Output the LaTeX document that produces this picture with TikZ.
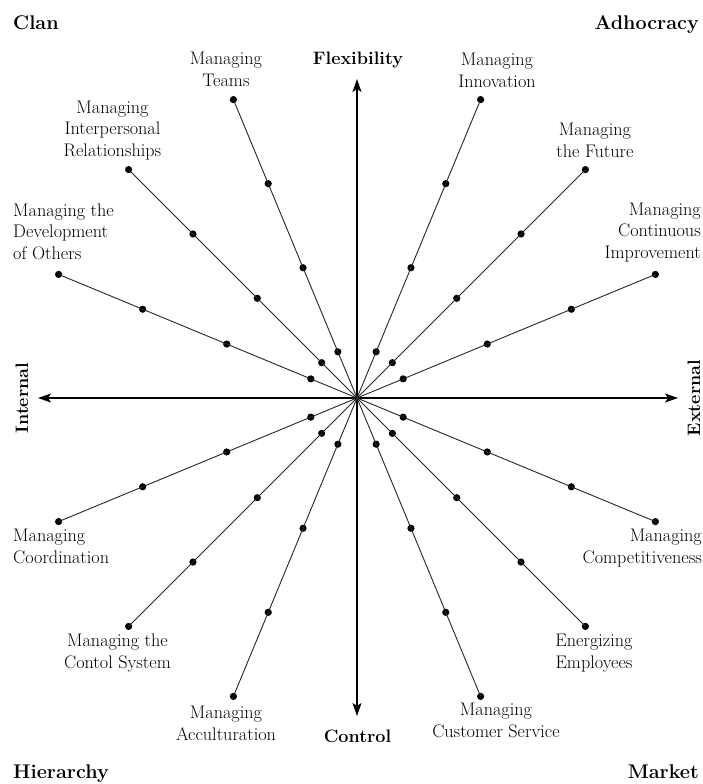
\documentclass[tikz,border=0pt]{standalone}
\usepackage{fontspec}
\usetikzlibrary{arrows.meta,calc}
\begin{document}
\begin{tikzpicture}[x=1pt,y=-1pt,
  spoke/.style={line width=0.9pt,black!85},
  axis/.style={line width=1.6pt,-{Stealth[length=13pt,width=9pt,inset=3pt]}},
  dot/.style={circle,fill,inner sep=0pt,minimum size=7.2pt},
  lbl/.style={font=\fontsize{18.2}{21.5}\selectfont,inner sep=0pt},
  head/.style={font=\fontsize{19.8}{23}\selectfont\bfseries,inner sep=0pt},
  axlbl/.style={font=\fontsize{18}{21}\selectfont\bfseries,inner sep=0pt}]
\useasboundingbox (0,0) rectangle (703,784);
\coordinate (O) at (357,398);

% axes
\coordinate (N) at (357,79);
\coordinate (S) at (357,716);
\coordinate (W) at (38,398);
\coordinate (E) at (678,398);
\draw[axis] (O) -- (N);
\draw[axis] (O) -- (S);
\draw[axis] (O) -- (W);
\draw[axis] (O) -- (E);

% spokes with four dots each (screen angles; y axis points down)
\foreach \a/\n in {22.5/ci, 45/fu, 67.5/in, 112.5/te, 135/ir, 157.5/dv,
                   202.5/co, 225/cs, 247.5/ac, 292.5/cu, 315/en, 337.5/cp}{
  \node[dot] (\n1) at ($(O)+(-\a:50)$) {};
  \node[dot] (\n2) at ($(O)+(-\a:141)$) {};
  \node[dot] (\n3) at ($(O)+(-\a:232)$) {};
  \node[dot] (\n4) at ($(O)+(-\a:323)$) {};
  \draw[spoke] (O) -- (\n4.center);
}

% quadrant names
\node[head,anchor=base west] (clan) at (13,30) {Clan};
\node[head,anchor=base east] (adho) at (699,30) {Adhocracy};
\node[head,anchor=base west] (hier) at (13,778) {Hierarchy};
\node[head,anchor=base east] (mark) at (699,778) {Market};

% axis names
\node[axlbl,anchor=base] (flex) at (358,65) {Flexibility};
\node[axlbl,anchor=base] (ctrl) at (357.5,742) {Control};
\node[axlbl,rotate=90] (intl) at (22,398) {Internal};
\node[axlbl,rotate=90] (extl) at (694,398) {External};

% spoke labels (anchor base = baseline of the last line)
\node[lbl,anchor=base,align=center] (lte) at (226,86) {Managing\\Teams};
\node[lbl,anchor=base,align=center] (lir) at (112.5,156) {Managing\\Interpersonal\\Relationships};
\node[lbl,anchor=base west,align=left] (ldv) at (13,259) {Managing the\\Development\\of Others};
\node[lbl,anchor=base,align=center] (lin) at (497,87) {Managing\\Innovation};
\node[lbl,anchor=base,align=center] (lfu) at (595,157) {Managing\\the Future};
\node[lbl,anchor=base east,align=right] (lci) at (701,258) {Managing\\Continuous\\Improvement};
\node[lbl,anchor=base west,align=left] (lco) at (13,563) {Managing\\Coordination};
\node[lbl,anchor=base,align=center] (lcs) at (117.5,668) {Managing the\\Contol System};
\node[lbl,anchor=base,align=center] (lac) at (226,740) {Managing\\Acculturation};
\node[lbl,anchor=base east,align=right] (lcp) at (702,563) {Managing\\Competitiveness};
\node[lbl,anchor=base,align=center] (len) at (594,668) {Energizing\\Employees};
\node[lbl,anchor=base,align=center] (lcu) at (496,737) {Managing\\Customer Service};
\end{tikzpicture}
\end{document}
